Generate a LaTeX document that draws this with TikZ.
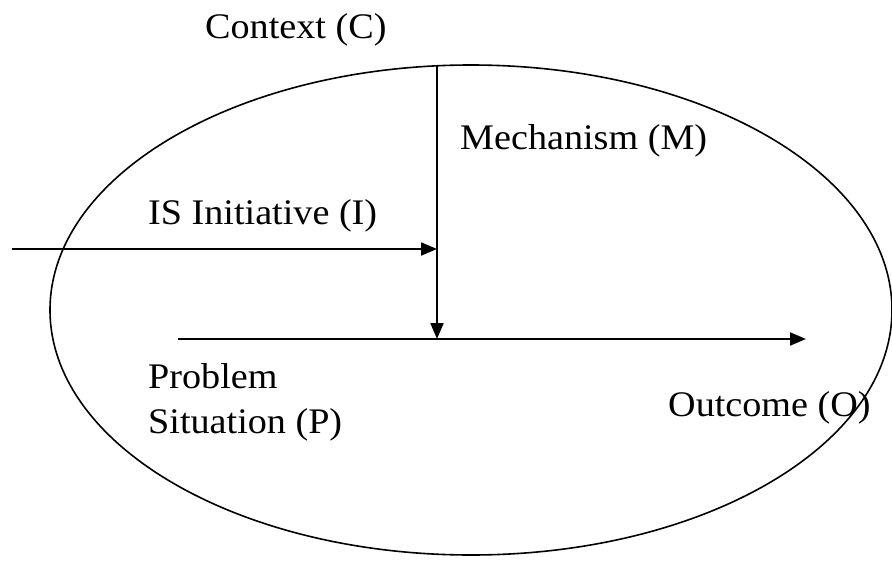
\documentclass[tikz,border=0pt]{standalone}
\usepackage{fontspec}
\setmainfont[FakeStretch=1.06]{Liberation Serif}
\usetikzlibrary{arrows.meta,shapes.geometric}

\begin{document}
\begin{tikzpicture}[x=1pt, y=-1pt, line join=round, >={Triangle[length=16pt,width=13pt]},
	lbl/.style={anchor=base west, inner sep=0pt, font=\fontsize{36}{45}\selectfont, align=left}]
			\useasboundingbox (0,0) rectangle (892,565);
			% context ellipse
			\node[draw, line width=1.6pt, ellipse, minimum width=842pt, minimum height=490pt, inner sep=0pt] (ctx) at (471,310) {};
			\coordinate (mechStart) at (437,65);
			\coordinate (mechEnd) at (437,339);
			\coordinate (initStart) at (12,249);
			\coordinate (initEnd) at (437,249);
			\coordinate (probStart) at (178,339);
			\coordinate (outEnd) at (806,339);
			\draw[line width=2pt, ->] (mechStart) -- (mechEnd);
			\draw[line width=2pt, ->] (initStart) -- (initEnd);
			\draw[line width=2pt, ->] (probStart) -- (outEnd);
			% labels
			\node[lbl] (context) at (205,38) {Context (C)};
			\node[lbl] (mech) at (460,149) {Mechanism (M)};
			\node[lbl] (init) at (148,224) {IS Initiative (I)};
			\node[lbl] (prob) at (148,433) {Problem\\Situation (P)};
			\node[lbl] (out) at (668,416) {Outcome (O)};
		\end{tikzpicture}
\end{document}
